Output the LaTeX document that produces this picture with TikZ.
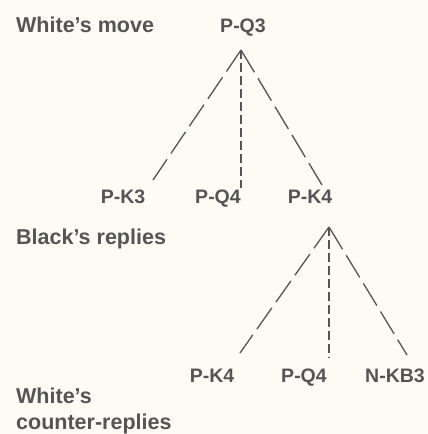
\documentclass[tikz,border=0pt]{standalone}
\usepackage{fontspec}
\setmainfont{Liberation Sans}
\usetikzlibrary{positioning}
\definecolor{ink}{HTML}{555555}
\definecolor{paper}{HTML}{FCFBF6}

\begin{document}
\begin{tikzpicture}[x=1pt,y=-1pt,
  lbl/.style={inner sep=0pt, anchor=base west, text=ink, font=\fontsize{21.5}{24}\selectfont\bfseries},
  mv/.style={inner sep=0pt, anchor=base, text=ink, font=\fontsize{19.5}{22}\selectfont\bfseries},
  branch/.style={ink, line width=1.3pt, dash pattern=on 26pt off 7pt},
  stem/.style={ink, line width=1.1pt, dash pattern=on 9pt off 4pt}]
\fill[paper] (0,0) rectangle (428,434);
\useasboundingbox (0,0) rectangle (428,434);

% row labels
\node[lbl] (wmove) at (16,32) {White’s move};
\node[lbl] (breply) at (16,244) {Black’s replies};
\node[lbl] (wcount) at (16,403) {White’s};
\node[lbl] (wcount2) at (16,429) {counter-replies};

% moves
\node[mv] (pq3) at (243,32) {P-Q3};
\node[mv] (pk3) at (123,203) {P-K3};
\node[mv] (pq4) at (218,203) {P-Q4};
\node[mv] (pk4) at (310,203) {P-K4};
\node[mv] (pk4b) at (212,382) {P-K4};
\node[mv] (pq4b) at (304,382) {P-Q4};
\node[mv] (nkb3) at (395,382) {N-KB3};

% forks
\coordinate (top1) at (241,50);
\coordinate (e1) at (153,180);
\coordinate (e2) at (241,188);
\coordinate (e3) at (322,185);
\coordinate (top2) at (329,227);
\coordinate (f1) at (240,353);
\coordinate (f2) at (329,358);
\coordinate (f3) at (407,355);

\draw[branch] (top1) -- (e1);
\draw[stem] (top1) -- (e2);
\draw[branch] (top1) -- (e3);
\draw[branch] (top2) -- (f1);
\draw[stem] (top2) -- (f2);
\draw[branch] (top2) -- (f3);

\end{tikzpicture}
\end{document}
